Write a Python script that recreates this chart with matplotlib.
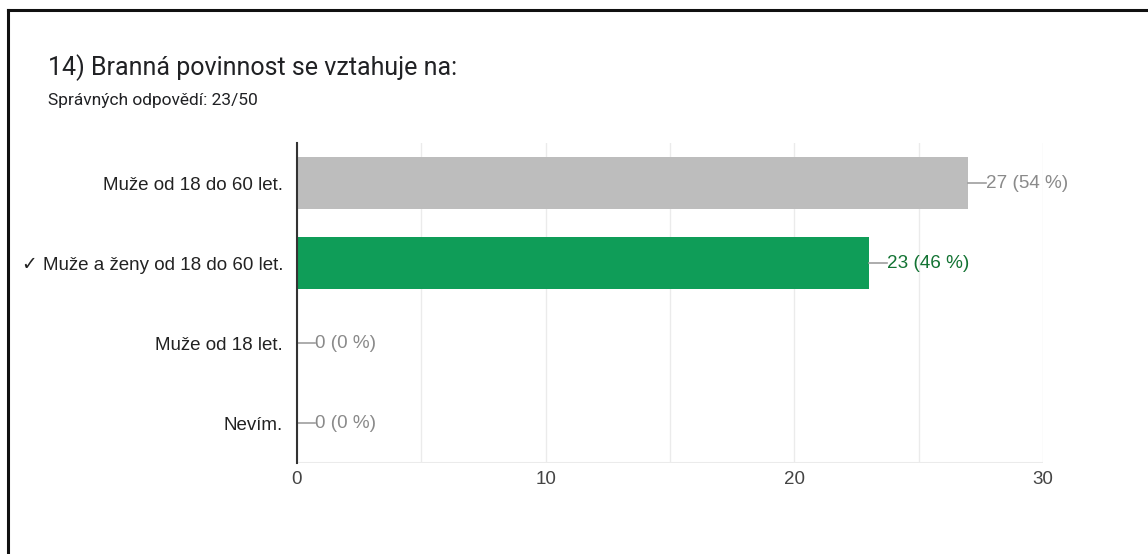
import matplotlib
matplotlib.use("Agg")
import matplotlib.pyplot as plt
from matplotlib.lines import Line2D

categories = ["Muže od 18 do 60 let.", "✓ Muže a ženy od 18 do 60 let.", "Muže od 18 let.", "Nevím."]
counts = [27, 23, 0, 0]
percents = [54, 46, 0, 0]
correct = [False, True, False, False]
xticks = [0, 10, 20, 30]
title = "14) Branná povinnost se vztahuje na:"
subtitle = "Správných odpovědí: 23/50"

W, H = 1148, 554
fig = plt.figure(figsize=(W / 100, H / 100), dpi=100)
fig.patch.set_facecolor("white")

# border lines
fig.add_artist(Line2D([8 / W, 1.0], [1 - 10 / H, 1 - 10 / H], color="#111111", lw=2.2, transform=fig.transFigure))
fig.add_artist(Line2D([8 / W, 8 / W], [0, 1 - 10 / H], color="#111111", lw=2.2, transform=fig.transFigure))

fig.text(48 / W, 1 - 68 / H, title, fontsize=18, family=["Roboto", "DejaVu Sans"], color="#202124", va="center")
fig.text(48 / W, 1 - 101 / H, subtitle, fontsize=12.5, family=["Roboto", "DejaVu Sans"], color="#202124", va="center")

left, right, top, bottom = 297, 1043, 143, 463
ax = fig.add_axes([left / W, 1 - bottom / H, (right - left) / W, (bottom - top) / H])

y = list(range(len(categories)))
colors = ["#0f9d58" if c else "#bdbdbd" for c in correct]
ax.barh(y, counts, height=0.64, color=colors, zorder=2)
ax.set_ylim(len(categories) - 0.5, -0.5)
ax.set_xlim(0, 30)

for v in range(0, 31, 5):
    ax.axvline(v, color="#ebebeb", lw=1, zorder=0)
ax.axhline(len(categories) - 0.5, color="#ebebeb", lw=1.5, zorder=0)

for i, (c, p, ok) in enumerate(zip(counts, percents, correct)):
    col = "#137333" if ok else "#8a8a8a"
    lead = 0.72
    ax.plot([c, c + lead], [i, i], color="#9e9e9e", lw=1.2, zorder=3, clip_on=False)
    ax.text(c + lead, i, f"{c} ({p} %)", color=col, fontsize=13.6,
            family=["Liberation Sans", "DejaVu Sans"], va="center", ha="left")

ax.set_yticks(y)
ax.set_yticklabels(categories, family=["Liberation Sans", "DejaVu Sans"], fontsize=13.5, color="#222222")
ax.set_xticks(xticks)
ax.set_xticklabels([str(t) for t in xticks], family=["Liberation Sans", "DejaVu Sans"], fontsize=13.5, color="#444444")
ax.tick_params(axis="both", length=0)
ax.tick_params(axis="y", pad=10)
ax.tick_params(axis="x", pad=6)
for s in ["top", "right", "bottom"]:
    ax.spines[s].set_visible(False)
ax.spines["left"].set_color("#333333")
ax.spines["left"].set_linewidth(1.5)
ax.spines["left"].set_zorder(4)

fig.savefig("out.png", dpi=100, facecolor="white")
